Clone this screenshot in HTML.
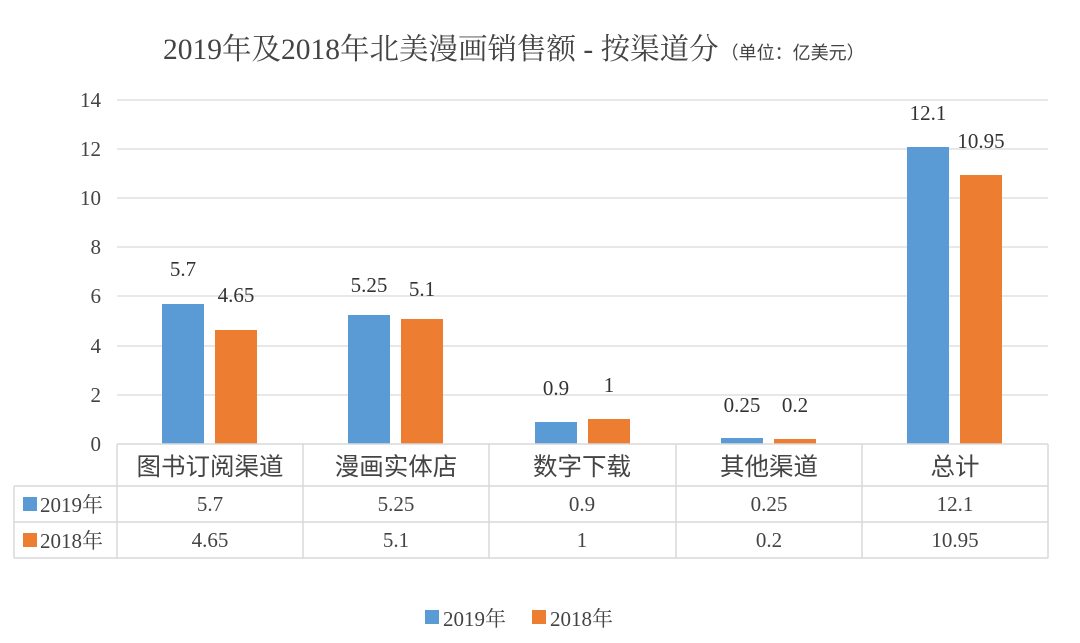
<!DOCTYPE html><html><head><meta charset="utf-8"><style>body{margin:0;background:#fff}svg{display:block}</style></head><body>
<svg width="1080" height="643" xmlns="http://www.w3.org/2000/svg">
<rect width="1080" height="643" fill="#fff"/>
<text x="163" y="59" font-family="Liberation Serif,'Noto Serif CJK SC',serif" font-size="29.5" fill="#444">2019年及2018年北美漫画销售额 - 按渠道分<tspan font-size="18" font-family="'Noto Sans CJK SC',sans-serif" dx="2">（单位：亿美元）</tspan></text>
<g stroke="#d9d9d9" stroke-width="1.3">
<line x1="117" y1="100" x2="1048" y2="100"/><line x1="117" y1="149" x2="1048" y2="149"/><line x1="117" y1="198" x2="1048" y2="198"/><line x1="117" y1="247" x2="1048" y2="247"/><line x1="117" y1="296" x2="1048" y2="296"/><line x1="117" y1="346" x2="1048" y2="346"/><line x1="117" y1="395" x2="1048" y2="395"/>
</g>
<g font-family="Liberation Serif,serif" font-size="21" fill="#444" text-anchor="end">
<text x="101" y="107">14</text><text x="101" y="156">12</text><text x="101" y="205">10</text><text x="101" y="254">8</text><text x="101" y="303">6</text><text x="101" y="353">4</text><text x="101" y="402">2</text><text x="101" y="451">0</text>
</g>
<g fill="#5b9bd5">
<rect x="162" y="304" width="42" height="140"/><rect x="348" y="315" width="42" height="129"/><rect x="535" y="422" width="42" height="22"/><rect x="721" y="438" width="42" height="6"/><rect x="907" y="147" width="42" height="297"/>
</g>
<g fill="#ed7d31">
<rect x="215" y="330" width="42" height="114"/><rect x="401" y="319" width="42" height="125"/><rect x="588" y="419" width="42" height="25"/><rect x="774" y="439" width="42" height="5"/><rect x="960" y="175" width="42" height="269"/>
</g>
<g font-family="Liberation Serif,serif" font-size="21" fill="#333" text-anchor="middle">
<text x="183" y="276">5.7</text><text x="236" y="302">4.65</text>
<text x="369" y="292">5.25</text><text x="422" y="296">5.1</text>
<text x="556" y="395">0.9</text><text x="609" y="392">1</text>
<text x="742" y="412">0.25</text><text x="795" y="412">0.2</text>
<text x="928" y="120">12.1</text><text x="981" y="148">10.95</text>
</g>
<g stroke="#d9d9d9" stroke-width="1.5" fill="none">
<line x1="117" y1="444" x2="1048" y2="444"/><line x1="14" y1="486" x2="1048" y2="486"/><line x1="14" y1="522" x2="1048" y2="522"/><line x1="14" y1="558" x2="1048" y2="558"/>
<line x1="14" y1="486" x2="14" y2="558"/><line x1="117" y1="444" x2="117" y2="558"/><line x1="303" y1="444" x2="303" y2="558"/><line x1="489" y1="444" x2="489" y2="558"/><line x1="676" y1="444" x2="676" y2="558"/><line x1="862" y1="444" x2="862" y2="558"/><line x1="1048" y1="444" x2="1048" y2="558"/>
</g>
<g font-family="'Noto Sans CJK SC',sans-serif" font-size="24.5" fill="#444" text-anchor="middle">
<text x="210" y="475">图书订阅渠道</text><text x="396" y="475">漫画实体店</text><text x="582" y="475">数字下载</text><text x="769" y="475">其他渠道</text><text x="955" y="475">总计</text>
</g>
<g font-family="Liberation Serif,serif" font-size="21" fill="#444" text-anchor="middle">
<text x="210" y="511">5.7</text><text x="396" y="511">5.25</text><text x="582" y="511">0.9</text><text x="769" y="511">0.25</text><text x="955" y="511">12.1</text>
<text x="210" y="547">4.65</text><text x="396" y="547">5.1</text><text x="582" y="547">1</text><text x="769" y="547">0.2</text><text x="955" y="547">10.95</text>
</g>
<rect x="23" y="497" width="14" height="14" fill="#5b9bd5"/><rect x="23" y="533" width="14" height="14" fill="#ed7d31"/>
<g font-family="Liberation Serif,'Noto Serif CJK SC',serif" font-size="21" fill="#444">
<text x="40" y="512">2019年</text><text x="40" y="548">2018年</text>
</g>
<rect x="425" y="610" width="14" height="14" fill="#5b9bd5"/><rect x="532" y="610" width="14" height="14" fill="#ed7d31"/>
<g font-family="Liberation Serif,'Noto Serif CJK SC',serif" font-size="21" fill="#444">
<text x="443" y="626">2019年</text><text x="550" y="626">2018年</text>
</g>
</svg>
</body></html>
